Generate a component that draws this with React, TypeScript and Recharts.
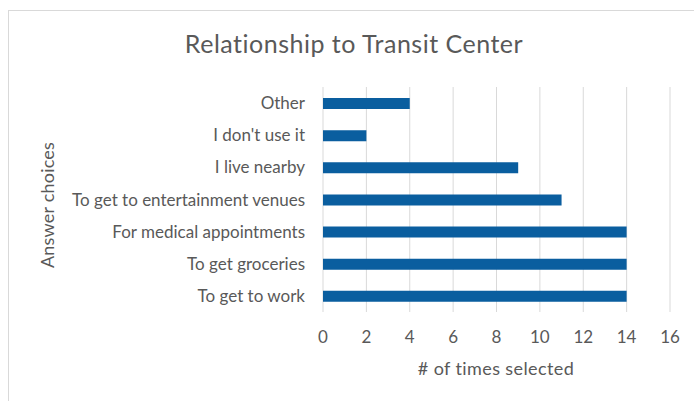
import React from 'react';
import { BarChart, Bar, XAxis, YAxis, CartesianGrid } from 'recharts';

const categories = [
  'Other',
  "I don't use it",
  'I live nearby',
  'To get to entertainment venues',
  'For medical appointments',
  'To get groceries',
  'To get to work',
];
const counts = [4, 2, 9, 11, 14, 14, 14];
const xTicks = [0, 2, 4, 6, 8, 10, 12, 14, 16];

const data = categories.map((name, i) => ({ name, value: counts[i] }));

const FONT = 'Lato, "Open Sans", sans-serif';
const TEXT = '#595959';

const App: React.FC = () => {
  return (
    <div
      style={{
        position: 'absolute',
        left: 0,
        top: 0,
        width: 694,
        height: 401,
        overflow: 'hidden',
        background: '#fff',
        fontFamily: FONT,
        color: TEXT,
      }}
    >
      {/* chart frame */}
      <div
        style={{
          position: 'absolute',
          left: 8,
          top: 10,
          width: 720,
          height: 420,
          borderLeft: '1px solid #d9d9d9',
          borderTop: '1px solid #d9d9d9',
        }}
      />
      <div
        style={{
          position: 'absolute',
          left: 0,
          top: 31,
          width: 708,
          textAlign: 'center',
          fontSize: 25,
          letterSpacing: 0.5,
          lineHeight: 1,
          whiteSpace: 'nowrap',
        }}
      >
        Relationship to Transit Center
      </div>
      <div style={{ position: 'absolute', left: 0, top: 0 }}>
        <BarChart
          width={694}
          height={401}
          layout="vertical"
          data={data}
          margin={{ top: 87, right: 24, bottom: 59, left: 0 }}
        >
          <CartesianGrid horizontal={false} stroke="#d9d9d9" />
          <XAxis
            type="number"
            domain={[0, 16]}
            ticks={xTicks}
            axisLine={false}
            tickLine={false}
            tickSize={0}
            tickMargin={19}
            height={30}
            tick={{ fill: TEXT, fontSize: 17, fontFamily: FONT }}
          />
          <YAxis
            type="category"
            dataKey="name"
            width={323}
            axisLine={false}
            tickLine={false}
            tickSize={0}
            tickMargin={18}
            interval={0}
            tick={{ fill: TEXT, fontSize: 17, fontFamily: FONT }}
          />
          <Bar dataKey="value" fill="#0a5e9f" barSize={11} isAnimationActive={false} />
        </BarChart>
      </div>
      <div
        style={{
          position: 'absolute',
          left: 496,
          top: 368,
          transform: 'translate(-50%, -50%)',
          fontSize: 18,
          letterSpacing: 0.4,
          whiteSpace: 'nowrap',
        }}
      >
        # of times selected
      </div>
      <div
        style={{
          position: 'absolute',
          left: 47,
          top: 205,
          transform: 'translate(-50%, -50%) rotate(-90deg)',
          fontSize: 18,
          letterSpacing: 0.2,
          whiteSpace: 'nowrap',
        }}
      >
        Answer choices
      </div>
    </div>
  );
};

export default App;
